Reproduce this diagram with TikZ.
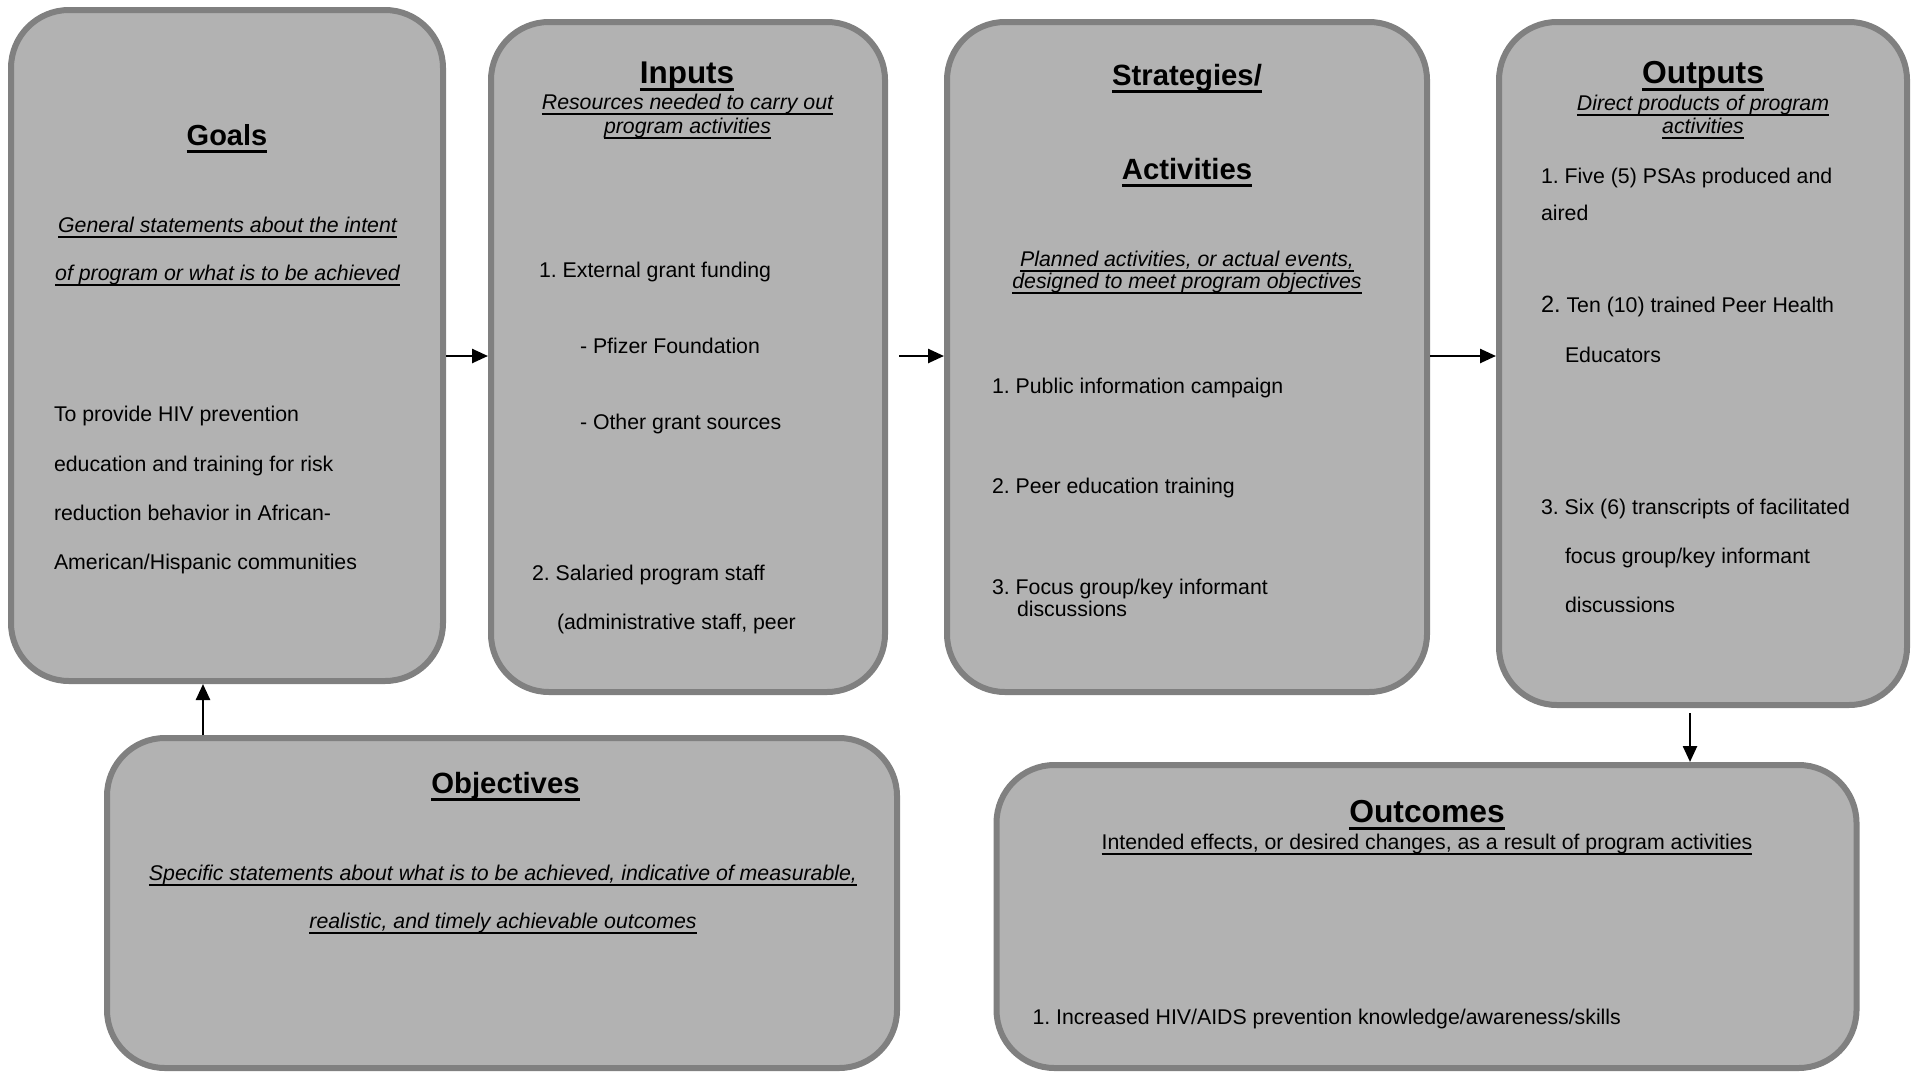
\documentclass[tikz,border=0pt]{standalone}
\usepackage{fontspec}
\setmainfont{Liberation Sans}
\usetikzlibrary{arrows.meta}
\definecolor{boxfill}{HTML}{B2B2B2}
\definecolor{boxline}{HTML}{808080}
\frenchspacing
\newcommand\ulx[3]{\setbox0=\hbox{#3}\rlap{\vrule height -#1 depth \dimexpr#1+#2\relax width \wd0}\box0}
\newcommand\ttlul[2]{\fontsize{#1}{#1}\selectfont\bfseries\ulx{5pt}{3pt}{#2}}
\newcommand\subul[1]{\itshape\ulx{4pt}{2pt}{#1}}
\newcommand\plainul[1]{\ulx{4pt}{2pt}{#1}}
\begin{document}
\begin{tikzpicture}[x=1pt,y=-1pt,
  box/.style={draw=boxline, fill=boxfill, line width=6pt, rounded corners=58pt, rectangle, inner sep=0pt},
  tl/.style={inner sep=0pt, outer sep=0pt, anchor=base west, font=\fontsize{21.3pt}{24pt}\selectfont},
  tc/.style={tl, anchor=base},
  arr/.style={-{Triangle[length=16pt,width=14pt]}, line width=2.5pt, black}]
\useasboundingbox (0,0) rectangle (1916,1071);
% boxes
\node[box, minimum width=432pt, minimum height=671pt] (goals) at (227,345.5) {};
\node[box, minimum width=394pt, minimum height=670pt] (inputs) at (688,357) {};
\node[box, minimum width=480pt, minimum height=670pt] (strategies) at (1187,357) {};
\node[box, minimum width=408pt, minimum height=683pt] (outputs) at (1703,363.5) {};
\node[box, minimum width=790pt, minimum height=330pt] (objectives) at (502,903) {};
\node[box, minimum width=860pt, minimum height=303pt] (outcomes) at (1426.5,916.5) {};
% goals text
\node[tc] (gt) at (227,145) {\ttlul{29pt}{Goals}};
\node[tc] (gs1) at (227.5,232) {\subul{General statements about the intent}};
\node[tc] (gs2) at (227.5,280) {\subul{of program or what is to be achieved}};
\node[tl] (gb1) at (54,421) {To provide HIV prevention};
\node[tl] (gb2) at (54,471) {education and training for risk};
\node[tl] (gb3) at (54,520) {reduction behavior in African-};
\node[tl] (gb4) at (54,569) {American/Hispanic communities};
% inputs text
\node[tc] (it) at (687,83) {\ttlul{31.4pt}{Inputs}};
\node[tc] (is1) at (687.5,109) {\subul{Resources needed to carry out}};
\node[tc] (is2) at (687.5,133) {\subul{program activities}};
\node[tl] (ib1) at (539,277) {1. External grant funding};
\node[tl] (ib2) at (580,353) {- Pfizer Foundation};
\node[tl] (ib3) at (580,429) {- Other grant sources};
\node[tl] (ib4) at (532,580) {2. Salaried program staff};
\node[tl] (ib5) at (557,629) {(administrative staff, peer};
% strategies text
\node[tc] (st1) at (1187,85) {\ttlul{29.3pt}{Strategies/}};
\node[tc] (st2) at (1187,179) {\ttlul{29.3pt}{Activities}};
\node[tc] (ss1) at (1187,266) {\subul{Planned activities, or actual events,}};
\node[tc] (ss2) at (1187,288) {\subul{designed to meet program objectives}};
\node[tl] (sb1) at (992,393) {1. Public information campaign};
\node[tl] (sb2) at (992,493) {2. Peer education training};
\node[tl] (sb3) at (992,594) {3. Focus group/key informant};
\node[tl] (sb4) at (1017,616) {discussions};
% outputs text
\node[tc] (ot) at (1703,83) {\ttlul{31.8pt}{Outputs}};
\node[tc] (os1) at (1703,110) {\subul{Direct products of program}};
\node[tc] (os2) at (1703,133) {\subul{activities}};
\node[tl] (ob1) at (1541,183) {1. Five (5) PSAs produced and};
\node[tl] (ob2) at (1541,220) {aired};
\node[tl] (ob3) at (1541,312) {{\fontsize{23.5pt}{24pt}\selectfont 2.} Ten (10) trained Peer Health};
\node[tl] (ob4) at (1565,362) {Educators};
\node[tl] (ob5) at (1541,514) {3. Six (6) transcripts of facilitated};
\node[tl] (ob6) at (1565,563) {focus group/key informant};
\node[tl] (ob7) at (1565,612) {discussions};
% objectives text
\node[tc] (jt) at (505.5,793) {\ttlul{29.3pt}{Objectives}};
\node[tc] (js1) at (503,880) {\subul{Specific statements about what is to be achieved, indicative of measurable,}};
\node[tc] (js2) at (503,928) {\subul{realistic, and timely achievable outcomes}};
% outcomes text
\node[tc] (ut) at (1427,822) {\ttlul{31.8pt}{Outcomes}};
\node[tc] (us1) at (1427,849) {\plainul{Intended effects, or desired changes, as a result of program activities}};
\node[tl] (ub1) at (1032.5,1024) {1. Increased HIV/AIDS prevention knowledge/awareness/skills};
% connectors
\draw[arr] (goals.east |- 0,356) -- (inputs.west |- 0,356);
\draw[arr] ([xshift=11pt]inputs.east |- 0,356) -- (strategies.west |- 0,356);
\draw[arr] (strategies.east |- 0,356) -- (outputs.west |- 0,356);
\draw[arr] ([yshift=-5pt]outputs.south -| 1690,0) -- (outcomes.north -| 1690,0);
\draw[arr] (objectives.north -| 203,0) -- (goals.south -| 203,0);
\end{tikzpicture}
\end{document}
